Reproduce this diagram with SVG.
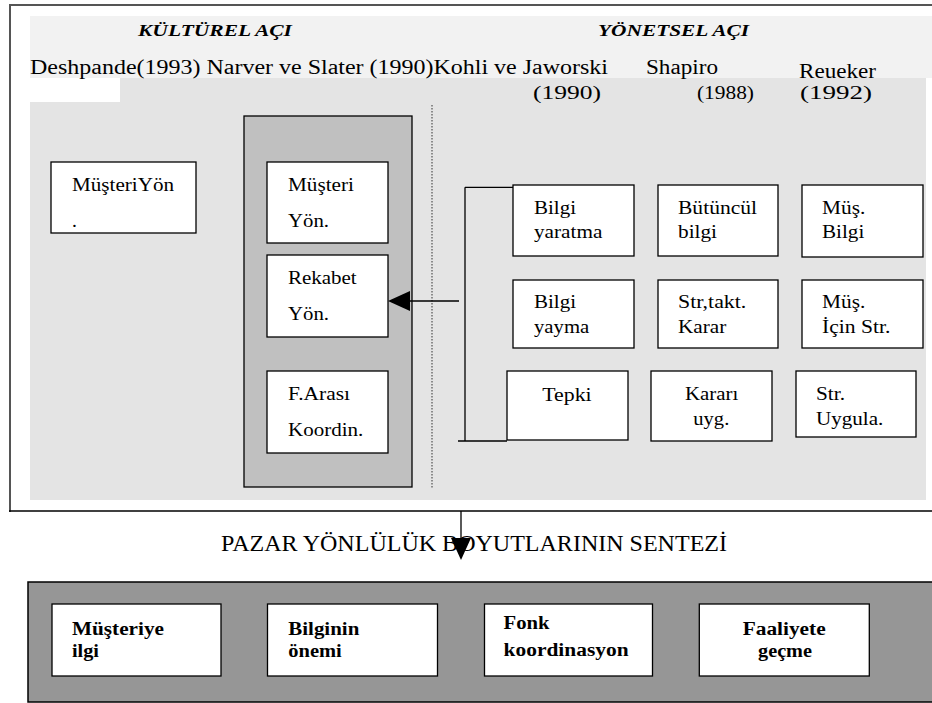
<svg xmlns="http://www.w3.org/2000/svg" width="932" height="703" viewBox="0 0 932 703" font-family="'Liberation Serif','DejaVu Serif','Times New Roman',serif">
<style>
text{font-family:"Liberation Serif","DejaVu Serif","Times New Roman",serif;fill:#000}
.h{font-size:17px;font-weight:bold;font-style:italic}
.a{font-size:20px}
.y{font-size:18px}
.t{font-size:19.5px}
.b{font-size:18px;font-weight:bold}
.bx{fill:#fff;stroke:#000;stroke-width:1.3}
.ln{stroke:#000;stroke-width:1.3;fill:none}
</style>
<defs>
<marker id="ah" markerWidth="22" markerHeight="20" refX="0" refY="10" orient="auto" markerUnits="userSpaceOnUse">
<path d="M0,0 L22,10 L0,20 Z" fill="#000"/>
</marker>
</defs>
<rect x="0" y="0" width="932" height="703" fill="#fff"/>
<g id="frame">
<rect x="30" y="78" width="896" height="422" fill="#e4e4e4"/>
<rect x="30" y="78" width="90" height="24" fill="#fff"/>
<rect x="30" y="16" width="902" height="62" fill="#f2f2f2"/>
<line x1="10" y1="5" x2="932" y2="5" stroke="#555" stroke-width="2"/>
<line x1="10" y1="4" x2="10" y2="512" stroke="#555" stroke-width="2"/>
<line x1="9" y1="511" x2="932" y2="511" stroke="#000" stroke-width="1.5"/>
<line x1="432" y1="105" x2="432" y2="488" stroke="#333" stroke-width="1" stroke-dasharray="1.5 1.5"/>
</g>
<g id="headers">
<text class="h" x="138" y="36" textLength="154" lengthAdjust="spacingAndGlyphs">KÜLTÜREL AÇI</text>
<text class="h" x="598" y="36" textLength="151" lengthAdjust="spacingAndGlyphs">YÖNETSEL AÇI</text>
<text class="a" x="30" y="73.5" textLength="578" lengthAdjust="spacingAndGlyphs">Deshpande(1993) Narver ve Slater (1990)Kohli ve Jaworski</text>
<text class="a" x="646" y="74" textLength="72" lengthAdjust="spacingAndGlyphs">Shapiro</text>
<text class="a" x="799" y="78" textLength="77" lengthAdjust="spacingAndGlyphs">Reueker</text>
<text class="y" x="533" y="99" textLength="68" lengthAdjust="spacingAndGlyphs">(1990)</text>
<text class="y" x="697" y="99" textLength="57" lengthAdjust="spacingAndGlyphs">(1988)</text>
<text class="y" x="800" y="99" textLength="72" lengthAdjust="spacingAndGlyphs">(1992)</text>
</g>
<g id="musteri-yon-left">
<rect class="bx" x="51" y="162" width="145" height="71"/>
<text class="t" x="72" y="190.7" textLength="102" lengthAdjust="spacingAndGlyphs">MüşteriYön</text>
<text class="t" x="72" y="227">.</text>
</g>
<g id="narver-container">
<rect x="244" y="116" width="168" height="371" fill="#c0c0c0" stroke="#000" stroke-width="1.3"/>
</g>
<g id="musteri-yon">
<rect class="bx" x="267" y="162" width="121" height="81"/>
<text class="t" x="288" y="190.7" textLength="66" lengthAdjust="spacingAndGlyphs">Müşteri</text>
<text class="t" x="288" y="227.3" textLength="41" lengthAdjust="spacingAndGlyphs">Yön.</text>
</g>
<g id="rekabet-yon">
<rect class="bx" x="267" y="255" width="121" height="82"/>
<text class="t" x="288" y="284" textLength="68.7" lengthAdjust="spacingAndGlyphs">Rekabet</text>
<text class="t" x="288" y="320" textLength="41" lengthAdjust="spacingAndGlyphs">Yön.</text>
</g>
<g id="f-arasi">
<rect class="bx" x="267" y="371" width="121" height="82"/>
<text class="t" x="288" y="400" textLength="62" lengthAdjust="spacingAndGlyphs">F.Arası</text>
<text class="t" x="288" y="436" textLength="75.3" lengthAdjust="spacingAndGlyphs">Koordin.</text>
</g>
<g id="bilgi-yaratma">
<rect class="bx" x="513" y="185" width="121" height="71"/>
<text class="t" x="534" y="214" textLength="42" lengthAdjust="spacingAndGlyphs">Bilgi</text>
<text class="t" x="534" y="238.3" textLength="68.3" lengthAdjust="spacingAndGlyphs">yaratma</text>
</g>
<g id="butuncul-bilgi">
<rect class="bx" x="658" y="185" width="120" height="71"/>
<text class="t" x="678" y="214" textLength="79" lengthAdjust="spacingAndGlyphs">Bütüncül</text>
<text class="t" x="678" y="238.3" textLength="39" lengthAdjust="spacingAndGlyphs">bilgi</text>
</g>
<g id="mus-bilgi">
<rect class="bx" x="802" y="185" width="121" height="72"/>
<text class="t" x="822" y="214" textLength="43.3" lengthAdjust="spacingAndGlyphs">Müş.</text>
<text class="t" x="822" y="238.3" textLength="42.3" lengthAdjust="spacingAndGlyphs">Bilgi</text>
</g>
<g id="bilgi-yayma">
<rect class="bx" x="513" y="280" width="121" height="68"/>
<text class="t" x="534" y="308.3" textLength="42" lengthAdjust="spacingAndGlyphs">Bilgi</text>
<text class="t" x="534" y="332.7" textLength="55.3" lengthAdjust="spacingAndGlyphs">yayma</text>
</g>
<g id="str-takt-karar">
<rect class="bx" x="658" y="280" width="120" height="68"/>
<text class="t" x="678" y="308.3" textLength="68.3" lengthAdjust="spacingAndGlyphs">Str,takt.</text>
<text class="t" x="678" y="332.7" textLength="48.3" lengthAdjust="spacingAndGlyphs">Karar</text>
</g>
<g id="mus-icin-str">
<rect class="bx" x="802" y="280" width="121" height="68"/>
<text class="t" x="822" y="308.3" textLength="43.3" lengthAdjust="spacingAndGlyphs">Müş.</text>
<text class="t" x="822" y="332.7" textLength="68.3" lengthAdjust="spacingAndGlyphs">İçin Str.</text>
</g>
<g id="tepki">
<rect class="bx" x="507" y="371" width="121" height="69"/>
<text class="t" x="542.3" y="400.7" textLength="49.3" lengthAdjust="spacingAndGlyphs">Tepki</text>
</g>
<g id="karari-uyg">
<rect class="bx" x="651" y="371" width="121" height="70"/>
<text class="t" x="685" y="400" textLength="53.3" lengthAdjust="spacingAndGlyphs">Kararı</text>
<text class="t" x="693.3" y="425" textLength="36" lengthAdjust="spacingAndGlyphs">uyg.</text>
</g>
<g id="str-uygula">
<rect class="bx" x="796" y="371" width="120" height="66"/>
<text class="t" x="816" y="400" textLength="29" lengthAdjust="spacingAndGlyphs">Str.</text>
<text class="t" x="816" y="425" textLength="67.3" lengthAdjust="spacingAndGlyphs">Uygula.</text>
</g>
<g id="sentez-label">
<text x="221" y="550.7" style="font-size:23px" textLength="506" lengthAdjust="spacingAndGlyphs">PAZAR YÖNLÜLÜK BOYUTLARININ SENTEZİ</text>
</g>
<g id="sentez-container">
<rect x="28" y="582" width="910" height="120" fill="#969696" stroke="#000" stroke-width="1.5"/>
</g>
<g id="musteriye-ilgi">
<rect class="bx" x="52" y="604" width="169" height="72"/>
<text class="b" x="72" y="635" textLength="92" lengthAdjust="spacingAndGlyphs">Müşteriye</text>
<text class="b" x="72" y="657.3" textLength="27" lengthAdjust="spacingAndGlyphs">ilgi</text>
</g>
<g id="bilginin-onemi">
<rect class="bx" x="267.5" y="604" width="170" height="72"/>
<text class="b" x="288.3" y="635" textLength="71" lengthAdjust="spacingAndGlyphs">Bilginin</text>
<text class="b" x="288.3" y="657.3" textLength="53.5" lengthAdjust="spacingAndGlyphs">önemi</text>
</g>
<g id="fonk-koordinasyon">
<rect class="bx" x="484.5" y="604" width="168" height="72"/>
<text class="b" x="503.6" y="629.3" textLength="46" lengthAdjust="spacingAndGlyphs">Fonk</text>
<text class="b" x="503.6" y="655.7" textLength="125" lengthAdjust="spacingAndGlyphs">koordinasyon</text>
</g>
<g id="faaliyete-gecme">
<rect class="bx" x="699.3" y="604" width="170" height="72"/>
<text class="b" x="742.7" y="635" textLength="83" lengthAdjust="spacingAndGlyphs">Faaliyete</text>
<text class="b" x="758" y="657.3" textLength="54" lengthAdjust="spacingAndGlyphs">geçme</text>
</g>
<g id="connectors">
<path class="ln" d="M465,187.3 H513 M465,187.3 V441 M458,441 H507"/>
<line class="ln" x1="459" y1="301" x2="410" y2="301" marker-end="url(#ah)"/>
<line class="ln" x1="461" y1="511" x2="461" y2="538" marker-end="url(#ah)"/>
</g>
</svg>
